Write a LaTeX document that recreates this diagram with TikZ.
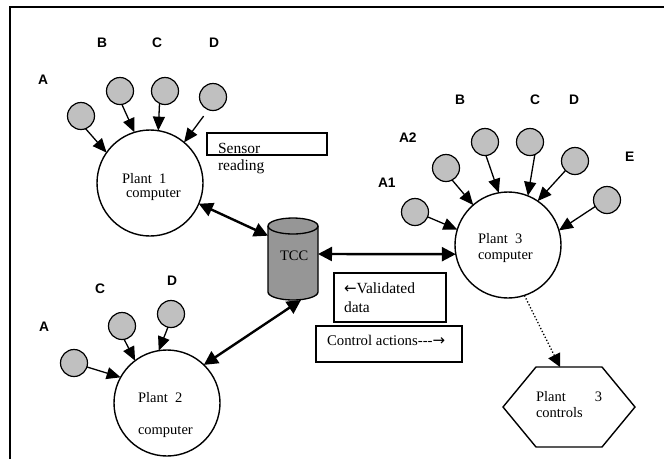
\documentclass[tikz,border=0pt]{standalone}
\usepackage{fontspec}
\setmainfont{Liberation Serif}
\newfontfamily\labelfont{Liberation Sans}
\newfontfamily\arrowfont{DejaVu Sans}
\usetikzlibrary{arrows.meta}
\definecolor{sensorgray}{RGB}{192,192,192}
\definecolor{tccgray}{RGB}{150,150,150}

\begin{document}
\begin{tikzpicture}[x=1pt,y=-1pt,
  every node/.style={inner sep=0pt, outer sep=0pt},
  plant/.style={circle, draw, line width=1.4pt, minimum size=106pt, fill=white},
  sensor/.style={circle, draw, line width=1.2pt, minimum size=27pt, fill=sensorgray},
  tag/.style={anchor=base west, font=\labelfont\bfseries\fontsize{13.8}{16}\selectfont},
  txt/.style={anchor=base west, font=\fontsize{14.5}{17}\selectfont},
  notetxt/.style={anchor=base west, font=\fontsize{15.5}{17}\selectfont},
  textbox/.style={draw, line width=1.5pt},
  feed/.style={line width=1.3pt, -{Triangle[length=14pt,width=12pt]}},
  link/.style={line width=2.4pt, {Triangle[length=14pt,width=14pt]}-{Triangle[length=14pt,width=14pt]}},
  dotlink/.style={line width=1.3pt, dotted, -{Triangle[length=13pt,width=13pt]}}]

\useasboundingbox (0,0) rectangle (664,459);
\fill[white] (0,0) rectangle (664,459);

% frame
\draw[line width=1.5pt] (10,459) -- (10,7) -- (664,7);

% plant computers
\node[plant] (p1) at (150,183) {};
\node[plant] (p2) at (167,403) {};
\node[plant] (p3) at (508,245) {};

\node[txt] (p1l1) at (122,183) {Plant\ \ 1};
\node[txt] (p1l2) at (126,197) {computer};
\node[txt] (p2l1) at (138,402) {Plant\ \ 2};
\node[txt] (p2l2) at (138,434) {computer};
\node[txt] (p3l1) at (478,243) {Plant\ \ 3};
\node[txt] (p3l2) at (478,259) {computer};

% sensors of plant 1
\node[sensor] (s1a) at (81,116) {};
\node[sensor] (s1b) at (120,91) {};
\node[sensor] (s1c) at (165,91) {};
\node[sensor] (s1d) at (213,97) {};
\node[tag] (t1a) at (38,84) {A};
\node[tag] (t1b) at (97,47) {B};
\node[tag] (t1c) at (152,47) {C};
\node[tag] (t1d) at (209,47) {D};

% sensors of plant 2
\node[sensor] (s2a) at (74,363) {};
\node[sensor] (s2c) at (122,326) {};
\node[sensor] (s2d) at (171,314) {};
\node[tag] (t2a) at (39,331) {A};
\node[tag] (t2c) at (95,293) {C};
\node[tag] (t2d) at (167,285) {D};

% sensors of plant 3
\node[sensor] (s3a1) at (415,212) {};
\node[sensor] (s3a2) at (446,168) {};
\node[sensor] (s3b) at (485,142) {};
\node[sensor] (s3c) at (530,142) {};
\node[sensor] (s3d) at (575,161) {};
\node[sensor] (s3e) at (607,200) {};
\node[tag] (t3a1) at (378,187) {A1};
\node[tag] (t3a2) at (399,142) {A2};
\node[tag] (t3b) at (455,104) {B};
\node[tag] (t3c) at (530,104) {C};
\node[tag] (t3d) at (569,104) {D};
\node[tag] (t3e) at (625,161) {E};

% sensor readings
\draw[feed] (s1a.290) -- (p1.145);
\draw[feed] (s1b.278) -- (p1.107);
\draw[feed] (s1c.246) -- (p1.81);
\draw[feed, shorten <=8pt] (s1d.250) -- (p1.50);

\draw[feed] (s2a.343) -- (p2.151);
\draw[feed] (s2c.279) -- (p2.127);
\draw[feed] (s2d.257) -- (p2.99);

\draw[feed] (s3a1.339) -- (p3.163);
\draw[feed] (s3a2.297) -- (p3.131);
\draw[feed] (s3b.274) -- (p3.100);
\draw[feed] (s3c.291) -- (p3.68);
\draw[feed] (s3d.225) -- (p3.56);
\draw[feed] (s3e.209) -- (p3.16);

% TCC database
\node[minimum width=50pt, minimum height=82pt] (tcc) at (293,259) {};
\filldraw[fill=tccgray, line width=1.3pt]
  (tcc.north west) ++(0,8) -- ([yshift=8pt]tcc.south west)
  arc[start angle=180, end angle=360, x radius=25pt, y radius=8pt]
  -- ([yshift=-8pt]tcc.north east)
  arc[start angle=0, end angle=180, x radius=25pt, y radius=8pt] -- cycle;
\draw[line width=1.3pt] ([yshift=-8pt]tcc.north west)
  arc[start angle=180, end angle=360, x radius=25pt, y radius=8pt];
\node[txt] (tccl) at (280,260) {TCC};

% links to the TCC
\draw[link] (p1.-23) -- (tcc.137);
\draw[link] ([yshift=5pt]tcc.east) -- (p3.190);
\draw[link] ([xshift=8pt]tcc.south) -- (p2.46);

% sensor reading note
\node[textbox, line width=1.3pt, minimum width=120pt, minimum height=22pt] (srbox) at (267,144) {};
\node[notetxt] (sr1) at (218,153) {Sensor};
\node[notetxt] (sr2) at (218,170) {reading};

% data flow notes
\node[textbox, minimum width=112pt, minimum height=49pt] (vd) at (390,297.5) {};
\node[notetxt] (vd1) at (344,293) {{\arrowfont\fontsize{15}{17}\selectfont ←}Validated};
\node[notetxt] (vd2) at (344,312) {data};
\node[textbox, minimum width=146pt, minimum height=36pt] (ca) at (389,344) {};
\node[txt, font=\fontsize{14.8}{17}\selectfont] (cat) at (327,345)
  {Control actions-{}-{}-{\arrowfont\fontsize{15}{17}\selectfont →}};

% plant 3 controls
\node[minimum width=132pt, minimum height=80pt] (ctrl) at (569,407) {};
\draw[line width=1.4pt] (ctrl.west) -- ([xshift=33pt]ctrl.north west)
  -- ([xshift=-33pt]ctrl.north east) -- (ctrl.east)
  -- ([xshift=-33pt]ctrl.south east) -- ([xshift=33pt]ctrl.south west) -- cycle;
\node[txt] (c1) at (536,401) {\makebox[66pt][s]{Plant 3}};
\node[txt] (c2) at (536,417) {controls};

\draw[dotlink] (p3.-72) -- ([xshift=-9pt]ctrl.north);

\end{tikzpicture}
\end{document}
